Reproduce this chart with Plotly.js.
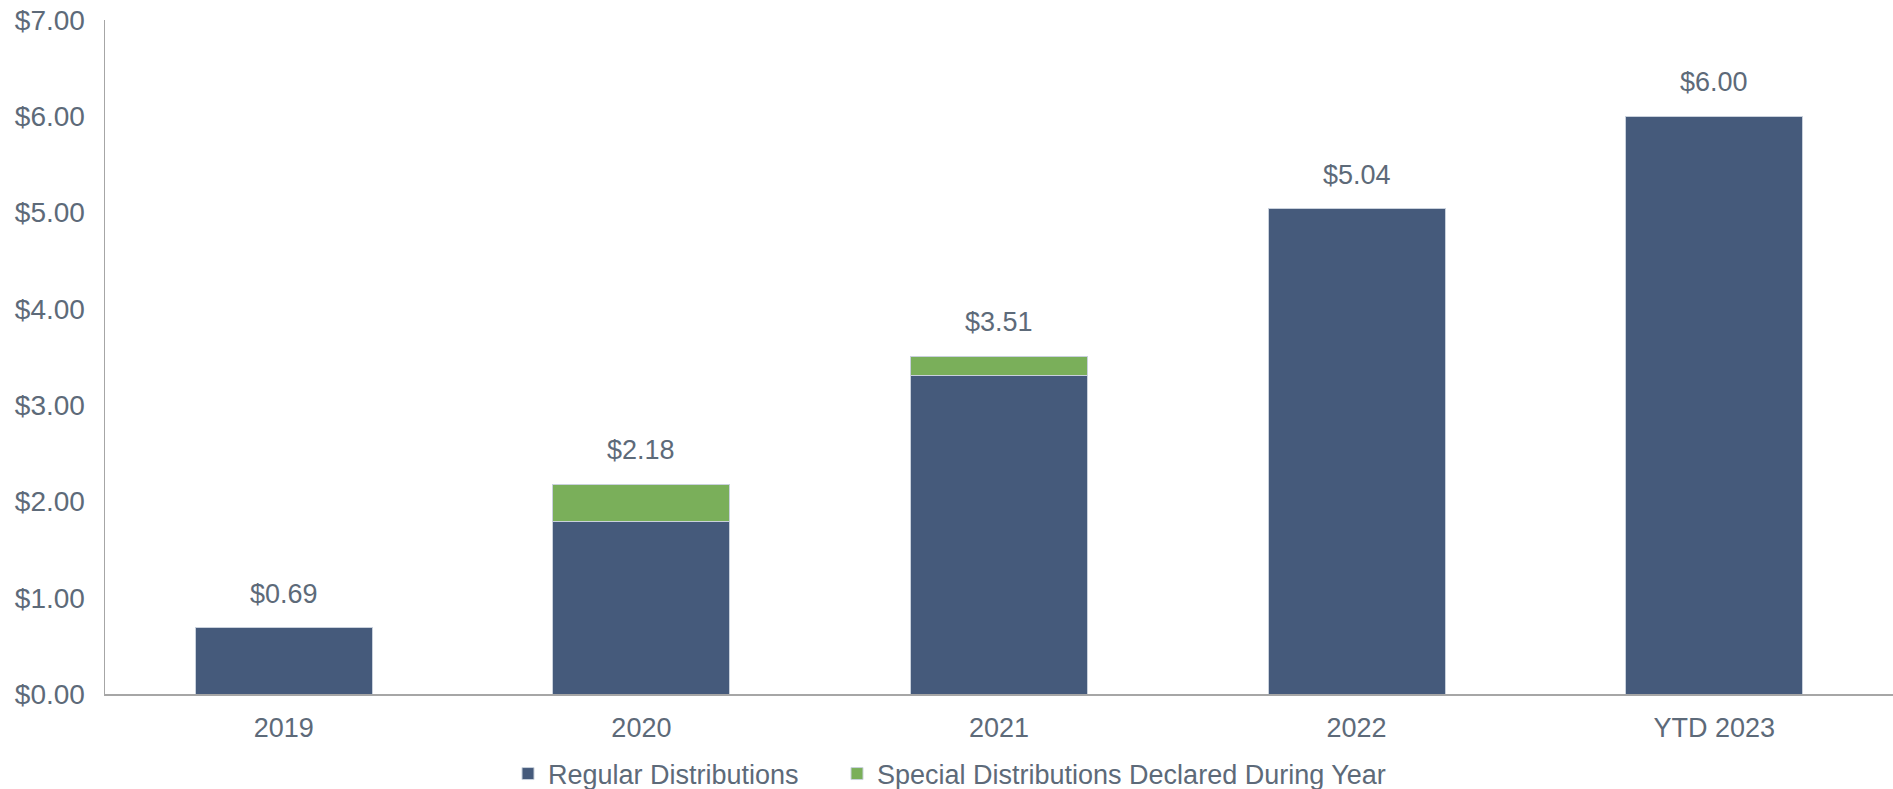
<!DOCTYPE html>
<html>
<head>
<meta charset="utf-8">
<script src="https://cdn.plot.ly/plotly-3.0.1.min.js"></script>
<style>html,body{margin:0;padding:0;background:#fff;}#chart{width:1893px;height:789px;}</style>
</head>
<body>
<div id="chart"></div>
<script>
const categories = ['2019', '2020', '2021', '2022', 'YTD 2023'];
const regularDistributions = [0.69, 1.79, 3.31, 5.04, 6.00];
const specialDistributions = [0, 0.39, 0.20, 0, 0];
const yTickValues = [0, 1, 2, 3, 4, 5, 6, 7];
const yTickLabels = ['$0.00', '$1.00', '$2.00', '$3.00', '$4.00', '$5.00', '$6.00', '$7.00'];

const totals = categories.map((c, i) => regularDistributions[i] + specialDistributions[i]);

const textColor = '#5d6a79';
const fontFamily = '"Liberation Sans", Arial, sans-serif';
const fs = 27;

const traces = [
  {
    type: 'bar', name: 'Regular Distributions', x: categories, y: regularDistributions,
    marker: {color: '#455a7b', line: {color: '#c9d1dc', width: 1}},
    hoverinfo: 'skip', legend: 'legend'
  },
  {
    type: 'bar', name: 'Special Distributions Declared During Year', x: categories, y: specialDistributions,
    marker: {color: '#7aaf5a', line: {color: '#c9d1dc', width: 1}},
    hoverinfo: 'skip', legend: 'legend2'
  }
];

const annotations = categories.map((c, i) => ({
  x: i, y: totals[i], xref: 'x', yref: 'y',
  text: '$' + totals[i].toFixed(2), showarrow: false,
  yanchor: 'bottom', yshift: 17,
  font: {family: fontFamily, size: fs, color: textColor}
}));

const legendBase = {
  orientation: 'h', xref: 'container', yref: 'paper',
  xanchor: 'left', y: -0.1187, yanchor: 'middle',
  font: {family: fontFamily, size: fs, color: textColor},
  bgcolor: 'rgba(0,0,0,0)', borderwidth: 0
};

const layout = {
  width: 1893, height: 789,
  margin: {l: 105, r: 0, t: 20, b: 95, pad: 0, autoexpand: false},
  paper_bgcolor: '#fff', plot_bgcolor: '#fff',
  barmode: 'stack', bargap: 0.505,
  font: {family: fontFamily, size: fs, color: textColor},
  xaxis: {
    type: 'category', range: [-0.5, 4.5], showgrid: false, zeroline: false,
    showline: true, linecolor: '#a6a6a6', linewidth: 1.5,
    ticks: '', ticklabelstandoff: 9,
    tickfont: {family: fontFamily, size: fs, color: textColor}
  },
  yaxis: {
    range: [0, 7], showgrid: false, zeroline: false,
    showline: true, linecolor: '#a6a6a6', linewidth: 1.5,
    tickvals: yTickValues, ticktext: yTickLabels,
    ticks: '', ticklabelstandoff: 13,
    tickfont: {family: fontFamily, size: 28, color: textColor}
  },
  showlegend: true,
  legend: Object.assign({}, legendBase, {x: 508 / 1893}),
  legend2: Object.assign({}, legendBase, {x: 837 / 1893}),
  annotations: annotations
};

Plotly.newPlot('chart', traces, layout, {displayModeBar: false, staticPlot: true});
</script>
</body>
</html>
